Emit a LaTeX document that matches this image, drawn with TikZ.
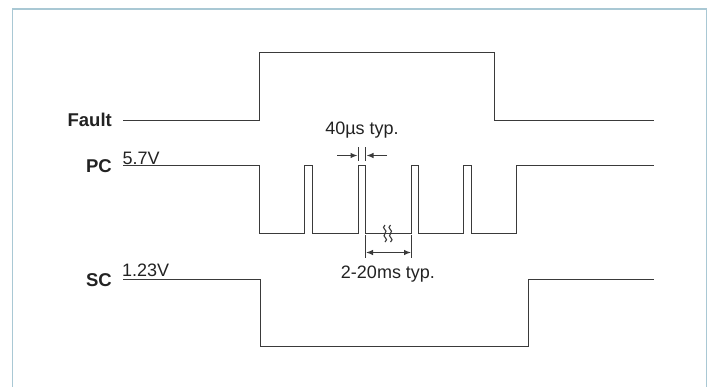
\documentclass[tikz,border=0pt]{standalone}
\usepackage{fontspec}
\setmainfont{Liberation Sans}
\usetikzlibrary{arrows.meta}
\definecolor{framec}{HTML}{A9C8D4}
\definecolor{sig}{HTML}{3A3A3A}
\definecolor{txt}{HTML}{222222}
\begin{document}
\begin{tikzpicture}[x=1pt,y=-1pt,
  sigline/.style={draw=sig,line width=1.25pt,line join=miter},
  lbl/.style={inner sep=0pt,font=\fontsize{18.5}{20}\selectfont\bfseries,text=txt},
  val/.style={inner sep=0pt,font=\fontsize{18}{20}\selectfont,text=txt},
  dimline/.style={draw=sig,line width=1.1pt},
  arr/.style={dimline,-{Latex[length=7pt,width=5.5pt]}},
  dblarr/.style={dimline,{Latex[length=7pt,width=5.5pt]}-{Latex[length=7pt,width=5.5pt]}},
  squig/.style={draw=sig,line width=1.1pt}]
\useasboundingbox (0,0) rectangle (711,386);
% frame
\draw[draw=framec,line width=1.6pt] (12.5,390) -- (12.5,9) -- (706.5,9) -- (706.5,390);

% labels
\node[lbl,anchor=base east] (lfault) at (112,126.5) {Fault};
\node[lbl,anchor=base east] (lpc) at (112,172.5) {PC};
\node[lbl,anchor=base east] (lsc) at (112,286) {SC};
\node[val,anchor=base west] (v57) at (122.5,164) {5.7V};
\node[val,anchor=base west] (v123) at (122,276.5) {1.23V};

% Fault signal
\coordinate (f0) at (123,120.5);
\coordinate (f1) at (259.5,120.5);
\coordinate (f2) at (259.5,52.5);
\coordinate (f3) at (494.5,52.5);
\coordinate (f4) at (494.5,120.5);
\coordinate (f5) at (654,120.5);
\draw[sigline] (f0) -- (f1) -- (f2) -- (f3) -- (f4) -- (f5);

% PC signal
\draw[sigline] (123,165.5) -- (259.5,165.5) -- (259.5,233.5)
  -- (304.5,233.5) -- (304.5,165.5) -- (312.5,165.5) -- (312.5,233.5)
  -- (358.5,233.5) -- (358.5,165.5) -- (365.5,165.5) -- (365.5,233.5)
  -- (411.5,233.5) -- (411.5,165.5) -- (418.5,165.5) -- (418.5,233.5)
  -- (463.5,233.5) -- (463.5,165.5) -- (471.5,165.5) -- (471.5,233.5)
  -- (516.5,233.5) -- (516.5,165.5) -- (654,165.5);

% SC signal
\coordinate (s0) at (123,279.5);
\coordinate (s1) at (260.5,279.5);
\coordinate (s2) at (260.5,346.5);
\coordinate (s3) at (528.5,346.5);
\coordinate (s4) at (528.5,279.5);
\coordinate (s5) at (654,279.5);
\draw[sigline] (s0) -- (s1) -- (s2) -- (s3) -- (s4) -- (s5);

% 40us dimension
\coordinate (t1a) at (358.5,147);
\coordinate (t1b) at (358.5,161);
\coordinate (t2a) at (365.5,147);
\coordinate (t2b) at (365.5,161);
\draw[dimline] (t1a) -- (t1b);
\draw[dimline] (t2a) -- (t2b);
\coordinate (a1s) at (337,155.5);
\coordinate (a1e) at (357.5,155.5);
\coordinate (a2s) at (387,155.5);
\coordinate (a2e) at (366.5,155.5);
\draw[arr] (a1s) -- (a1e);
\draw[arr] (a2s) -- (a2e);
\node[val,anchor=base] (t40) at (362,134) {40µs typ.};

% 2-20ms dimension
\coordinate (u1a) at (365.5,235);
\coordinate (u1b) at (365.5,258);
\coordinate (u2a) at (411.5,235);
\coordinate (u2b) at (411.5,258);
\draw[dimline] (u1a) -- (u1b);
\draw[dimline] (u2a) -- (u2b);
\draw[dblarr] (366,252.5) -- (411,252.5);
\node[val,anchor=base] (t220) at (388,278) {2-20ms typ.};

% break squiggles
\draw[squig] (385,225) .. controls (380,228.5) and (389,230) .. (385,233.5) .. controls (381,237) and (390,238.5) .. (385,242);
\draw[squig] (390.5,225) .. controls (385.5,228.5) and (394.5,230) .. (390.5,233.5) .. controls (386.5,237) and (395.5,238.5) .. (390.5,242);
\end{tikzpicture}
\end{document}
